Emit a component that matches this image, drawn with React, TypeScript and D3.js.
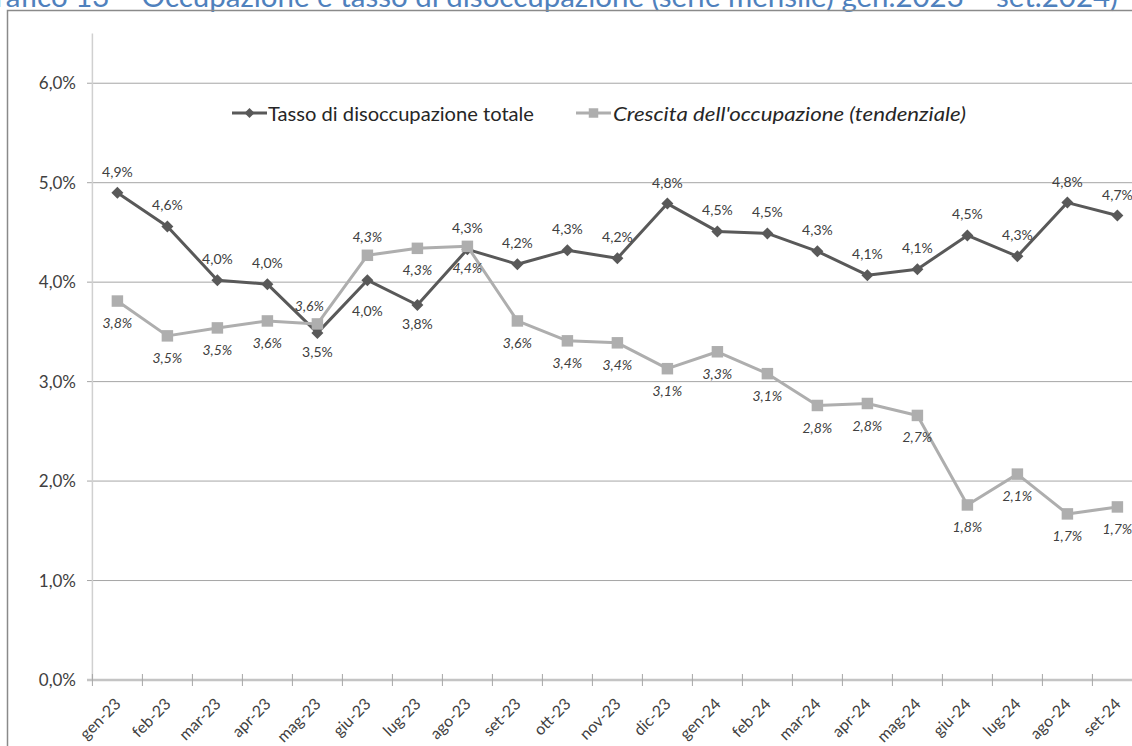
import React from 'react';
import * as d3 from 'd3';

const categories = ['gen-23','feb-23','mar-23','apr-23','mag-23','giu-23','lug-23','ago-23','set-23','ott-23','nov-23','dic-23','gen-24','feb-24','mar-24','apr-24','mag-24','giu-24','lug-24','ago-24','set-24'];
const disoccupazione = [4.90,4.56,4.02,3.98,3.49,4.02,3.77,4.33,4.18,4.32,4.24,4.79,4.51,4.49,4.31,4.07,4.13,4.47,4.26,4.80,4.67];
const occupazione = [3.81,3.46,3.54,3.61,3.58,4.27,4.34,4.36,3.61,3.41,3.39,3.13,3.30,3.08,2.76,2.78,2.66,1.76,2.07,1.67,1.74];
const yTicks = [0,1,2,3,4,5,6];
// label placement: 1 = above, -1 = below
const disocLabelSide = [1,1,1,1,-1,-1,-1,1,1,1,1,1,1,1,1,1,1,1,1,1,1];
const occLabelSide = [-1,-1,-1,-1,1,1,-1,-1,-1,-1,-1,-1,-1,-1,-1,-1,-1,-1,-1,-1,-1];

const TITLE = 'Grafico 13 – Occupazione e tasso di disoccupazione (serie mensile) gen.2023 – set.2024)';
const LEGEND1 = 'Tasso di disoccupazione totale';
const LEGEND2 = "Crescita dell'occupazione (tendenziale)";

const FONT = "Lato, 'Open Sans', sans-serif";
const DARK = '#595959';
const LIGHT = '#AEAEAE';
const TXT = '#404040';

const fmt = (v: number) => v.toFixed(1).replace('.', ',') + '%';

export default function App() {
  const W = 1132, H = 746;
  const x0 = 92.4, bw = 50;
  const x = d3.scaleBand<string>().domain(categories).range([x0, x0 + categories.length * bw]).padding(0);
  const y = d3.scaleLinear().domain([0, 6.5]).range([680, 33.5]);
  const cx = (c: string) => (x(c) as number) + x.bandwidth() / 2;

  const line = d3.line<number>().x((_, i) => cx(categories[i])).y((v) => y(v));
  const diamond = d3.symbol().type(d3.symbolSquare).size(72)();
  const square = d3.symbol().type(d3.symbolSquare).size(132)();
  const legSquare = d3.symbol().type(d3.symbolSquare).size(90)();
  const legDiamond = d3.symbol().type(d3.symbolSquare).size(50)();

  const xRight = x0 + categories.length * bw;
  const boundaries = d3.range(categories.length + 1).map((i) => x0 + i * bw);

  return (
    <svg width={W} height={H} style={{ position: 'absolute', left: 0, top: 0, background: '#fff' }} fontFamily={FONT}>
      <rect x={0} y={0} width={W} height={H} fill="#fff" />
      {/* title (clipped at top, as in the source image) */}
      <text x={-26} y={7} fontSize={28} fill="#4F81BD" textLength={1144} lengthAdjust="spacingAndGlyphs">{TITLE}</text>
      {/* chart frame */}
      <path d={`M7.5,${H + 5}V10.5H${W + 5}`} fill="none" stroke="#8a8a8a" strokeWidth={1.5} />

      {/* gridlines */}
      {yTicks.filter((t) => t > 0).map((t) => (
        <line key={t} x1={87} x2={xRight} y1={y(t)} y2={y(t)} stroke="#a6a6a6" strokeWidth={1} />
      ))}
      {/* y axis line */}
      <line x1={x0} x2={x0} y1={y(6.5)} y2={y(0)} stroke="#d0d0d0" strokeWidth={1.5} />
      {/* x axis */}
      <line x1={87} x2={xRight} y1={y(0)} y2={y(0)} stroke="#c4c4c4" strokeWidth={2.5} />
      {boundaries.map((b, i) => (
        <line key={i} x1={b} x2={b} y1={y(0) - 6} y2={y(0) + 6} stroke="#a6a6a6" strokeWidth={1} />
      ))}

      {/* y labels */}
      {yTicks.map((t) => (
        <text key={t} x={76} y={y(t)} dy="0.36em" textAnchor="end" fontSize={17} fill={TXT}>{fmt(t)}</text>
      ))}

      {/* x labels */}
      {categories.map((c) => (
        <text key={c} transform={`translate(${cx(c) + 4.5},${y(0) + 25}) rotate(-45)`} textAnchor="end" fontSize={16} fill={TXT}>{c}</text>
      ))}

      {/* series: disoccupazione */}
      <path d={line(disoccupazione) || ''} fill="none" stroke={DARK} strokeWidth={3} strokeLinejoin="round" />
      {disoccupazione.map((v, i) => (
        <path key={i} d={diamond || ''} transform={`translate(${cx(categories[i])},${y(v)}) rotate(45)`} fill={DARK} />
      ))}

      {/* series: occupazione */}
      <path d={line(occupazione) || ''} fill="none" stroke={LIGHT} strokeWidth={3} strokeLinejoin="round" />
      {occupazione.map((v, i) => (
        <path key={i} d={square || ''} transform={`translate(${cx(categories[i])},${y(v)})`} fill={LIGHT} />
      ))}

      {/* data labels */}
      {disoccupazione.map((v, i) => {
        const off = disocLabelSide[i] > 0 ? -21 : (i === 5 ? 31 : 19);
        return (
          <text key={i} x={cx(categories[i])} y={y(v) + off} dy="0.36em" textAnchor="middle" fontSize={14} fill={TXT}>{fmt(v)}</text>
        );
      })}
      {occupazione.map((v, i) => {
        const off = occLabelSide[i] > 0 ? -18 : 22;
        const dx = i === 4 ? -8 : 0;
        return (
          <text key={i} x={cx(categories[i]) + dx} y={y(v) + off} dy="0.36em" textAnchor="middle" fontSize={14} fontStyle="italic" fill={TXT}>{fmt(v)}</text>
        );
      })}

      {/* legend */}
      <g>
        <line x1={232} x2={267} y1={113} y2={113} stroke={DARK} strokeWidth={3} />
        <path d={legDiamond || ''} transform="translate(249.5,113) rotate(45)" fill={DARK} />
        <text x={268} y={121} fontSize={20} fill="#262626" textLength={266} lengthAdjust="spacingAndGlyphs">{LEGEND1}</text>
        <line x1={576} x2={611} y1={113} y2={113} stroke={LIGHT} strokeWidth={3} />
        <path d={legSquare || ''} transform="translate(593.5,113)" fill={LIGHT} />
        <text x={613} y={121} fontSize={20} fontStyle="italic" fill="#262626" textLength={353} lengthAdjust="spacingAndGlyphs">{LEGEND2}</text>
      </g>
    </svg>
  );
}
